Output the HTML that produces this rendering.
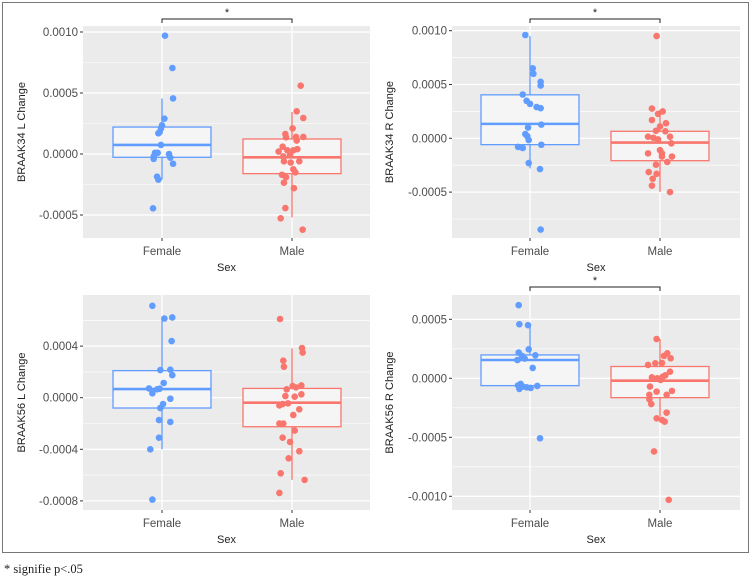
<!DOCTYPE html>
<html><head><meta charset="utf-8">
<style>
html,body{margin:0;padding:0;background:#fff;}
svg{display:block;font-family:"Liberation Sans",sans-serif;}
</style></head>
<body>
<svg id="chart" width="754" height="579" viewBox="0 0 754 579" xmlns="http://www.w3.org/2000/svg">
<rect x="2.5" y="2.5" width="746" height="550" fill="none" stroke="#777" stroke-width="1"/>
<text x="4" y="573" font-family="Liberation Serif, serif" font-size="12.5" fill="#222">* signifie  p&lt;.05</text>
</svg>
<script>
const categories = ["Female", "Male"];
// Panel 1: BRAAK34 L
const p1Female = [0.00097,0.000705,0.000456,0.00029,0.000235,0.00021,0.00018,0.00017,0.000074,0.00001,0.00001,-0.00002,-0.00004,0.0,-0.00003,-0.00008,-0.000186,-0.00021,-0.000445];
const p1FemaleJit = [0.023,0.08,0.085,0.018,0,-0.008,-0.018,-0.028,-0.008,-0.054,-0.033,-0.064,-0.064,0.054,0.064,0.085,-0.038,-0.028,-0.069];
const p1Male = [0.00056,0.00035,0.000295,0.00021,0.000164,0.000137,0.00014,0.00014,0.00011,0.00006,0.00002,0.00003,0.00003,0.00004,-0.00002,-0.00001,-0.00006,-0.00006,-0.00007,-0.000125,-0.00015,-0.00017,-0.00019,-0.000235,-0.00028,-0.000443,-0.000527,-0.00062];
const p1MaleJit = [0.067,0.036,0.087,0.005,-0.051,-0.046,0.031,0.087,0.036,-0.072,-0.103,-0.036,0.01,0.041,-0.067,-0.015,0.056,-0.062,-0.01,0.01,0.026,-0.077,-0.046,-0.062,0.015,-0.051,-0.087,0.082];
const p1FemaleBox = [-0.00021,-0.000027,0.000074,0.000221,0.000455];
const p1MaleBox = [-0.00052,-0.000161,-0.000027,0.000123,0.000344];
// Panel 2: BRAAK34 R
const p2Female = [0.00096,0.00065,0.0006,0.000525,0.00049,0.000407,0.000348,0.00032,0.00029,0.00028,0.0001,0.000127,0.00004,0.00002,-0.000016,-0.00008,-0.00009,-0.00006,-0.00023,-0.000286,-0.000848];
const p2FemaleJit = [-0.036,0.021,0.026,0.082,0.082,-0.056,-0.026,0,0.051,0.082,-0.015,0.087,-0.036,-0.021,-0.01,-0.092,-0.056,0.087,-0.01,0.077,0.082];
const p2Male = [0.00095,0.000276,0.000227,0.00025,0.00017,0.00014,0.00011,0.00007,0.000065,0.000015,0.000005,-0.00001,0.000015,-0.000047,-0.00011,-0.00014,-0.00014,-0.00017,-0.00017,-0.00022,-0.000245,-0.000314,-0.00033,-0.000376,-0.00044,-0.0005];
const p2MaleJit = [-0.026,-0.062,-0.015,0.021,-0.062,0.046,0,-0.031,0.041,-0.092,-0.051,-0.015,0.077,0.087,0,0.015,-0.092,0.092,0.015,0.056,-0.031,-0.087,-0.026,-0.056,-0.062,0.077];
const p2FemaleBox = [-0.00028,-0.000059,0.000134,0.000404,0.00095];
const p2MaleBox = [-0.000497,-0.000208,-0.00004,0.000065,0.000264];
// Panel 3: BRAAK56 L
const p3Female = [0.000712,0.000614,0.000622,0.000439,0.000214,0.000217,0.000175,0.000114,0.000072,0.000034,0.000065,0.00007,-0.000008,-0.000049,-0.00008,-0.000173,-0.000188,-0.00031,-0.0004,-0.00079];
const p3FemaleJit = [-0.074,0.018,0.079,0.074,-0.013,0.064,0.079,0.013,-0.1,-0.074,-0.038,-0.018,0.064,0.008,-0.013,-0.023,0.064,-0.023,-0.09,-0.074];
const p3Male = [0.00061,0.000385,0.00035,0.000287,0.00024,0.000095,0.00009,0.000065,0.00008,0.000026,0.000013,0.000008,-0.000044,-0.00006,-0.000049,-0.00009,-0.000134,-0.0002,-0.0002,-0.000255,-0.00031,-0.000343,-0.000415,-0.00047,-0.000586,-0.000637,-0.000738];
const p3MaleJit = [-0.092,0.077,0.082,-0.067,-0.062,0.072,0.005,-0.041,0.031,0.072,-0.051,0.021,-0.031,-0.097,-0.072,0.056,0.01,-0.097,-0.067,0.021,-0.072,-0.015,0.056,-0.026,-0.087,0.097,-0.097];
const p3FemaleBox = [-0.0004,-0.00008,0.000067,0.00021,0.00061];
const p3MaleBox = [-0.000637,-0.000225,-0.000039,0.000072,0.000382];
// Panel 4: BRAAK56 R
const p4Female = [0.00062,0.000458,0.00045,0.000246,0.000218,0.00019,0.000167,0.000155,0.000195,0.000088,-0.000048,-0.00006,-0.00007,-0.000076,-0.000082,-0.000065,-0.00009,-0.000508];
const p4FemaleJit = [-0.087,-0.082,-0.015,-0.01,-0.087,-0.062,-0.041,-0.097,0.041,0.021,-0.072,-0.092,-0.056,-0.026,0.005,0.056,-0.082,0.077];
const p4Male = [0.000333,0.000212,0.00019,0.00017,0.000113,0.000127,0.00013,0.000056,0.000014,0.000008,0.000,0.000025,-0.000014,-0.00007,-0.000113,-0.00014,-0.00014,-0.000107,-0.000178,-0.000218,-0.000339,-0.000353,-0.000367,-0.000291,-0.00062,-0.00103];
const p4MaleJit = [-0.026,0.056,0.031,0.082,-0.092,-0.036,0.015,0.077,0.021,-0.062,-0.021,0.041,0.005,-0.077,-0.026,-0.082,0.051,0.092,-0.082,-0.067,-0.026,0.015,0.036,0.051,-0.046,0.067];
const p4FemaleBox = [-0.000076,-0.000062,0.000155,0.000198,0.000452];
const p4MaleBox = [-0.000325,-0.000164,-0.00002,0.0001,0.000333];

const p1Ticks = [0.001,0.0005,0,-0.0005];
const p1TickLabels = ["0.0010","0.0005","0.0000","-0.0005"];
const p2Ticks = [0.001,0.0005,0,-0.0005];
const p2TickLabels = ["0.0010","0.0005","0.0000","-0.0005"];
const p3Ticks = [0.0004,0,-0.0004,-0.0008];
const p3TickLabels = ["0.0004","0.0000","-0.0004","-0.0008"];
const p4Ticks = [0.0005,0,-0.0005,-0.001];
const p4TickLabels = ["0.0005","0.0000","-0.0005","-0.0010"];

const NS = "http://www.w3.org/2000/svg";
const svg = document.getElementById("chart");
const COLORS = ["#619CFF", "#F8766D"];
function mk(tag, attrs, parent){const e=document.createElementNS(NS,tag);for(const k in attrs)e.setAttribute(k,attrs[k]);(parent||svg).appendChild(e);return e;}

function panel(cfg){
  const g = mk("g",{});
  
  
  const {x0,x1,y0,y1,zeroY,pxPer,ticks,tickLabels} = cfg;
  const yS = v => zeroY - v*pxPer;
  const xS = (i,j) => cfg.cx[i] + j*130;
  const bg = mk("rect",{x:x0,y:y0,width:x1-x0,height:y1-y0,fill:"#EBEBEB"},g);
  
  
  // minor gridlines
  const step = ticks[0]-ticks[1];
  for(let k=-6;k<=6;k++){
    const v = ticks[0]-step/2 - k*step;
    const y=yS(v);
    if(y>y0+1&&y<y1-1){const l=mk("line",{x1:x0,x2:x1,y1:y,y2:y,stroke:"#fff","stroke-width":0.6},g);
      
      }
  }
  ticks.forEach((t,i)=>{
    const y=yS(t);
    const l=mk("line",{x1:x0,x2:x1,y1:y,y2:y,stroke:"#fff","stroke-width":1.3},g);
    
    
    const tk=mk("line",{x1:x0-3,x2:x0,y1:y,y2:y,stroke:"#333","stroke-width":1},g);
    
    
    const tx=mk("text",{x:x0-5,y:y+4,"text-anchor":"end","font-size":11.5,fill:"#4d4d4d"},g);
    tx.textContent=tickLabels[i];
    
    
  });
  categories.forEach((c,i)=>{
    const x=cfg.cx[i];
    const l=mk("line",{x1:x,x2:x,y1:y0,y2:y1,stroke:"#fff","stroke-width":1.3},g);
    
    
    const tk=mk("line",{x1:x,x2:x,y1:y1,y2:y1+3,stroke:"#333","stroke-width":1},g);
    
    
    const tx=mk("text",{x:x,y:y1+17,"text-anchor":"middle","font-size":11.5,fill:"#4d4d4d"},g);
    tx.textContent=c;
    
    
  });
  const xt=mk("text",{x:(x0+x1)/2,y:y1+33,"text-anchor":"middle","font-size":11,fill:"#222"},g);
  xt.textContent="Sex";
  
  
  const ty=(y0+y1)/2;
  const yt=mk("text",{x:cfg.titleX,y:ty,"text-anchor":"middle","font-size":11,fill:"#222",transform:`rotate(-90 ${cfg.titleX} ${ty})`},g);
  yt.textContent=cfg.title;
  
  
  // boxes
  [cfg.boxF,cfg.boxM].forEach((b,i)=>{
    const x=cfg.cx[i], hw=49, col=COLORS[i];
    const wl=mk("line",{x1:x,x2:x,y1:yS(b[4]),y2:yS(b[0]),stroke:col,"stroke-width":1.3},g);
    
    
    const r=mk("rect",{x:x-hw,y:yS(b[3]),width:2*hw,height:yS(b[1])-yS(b[3]),fill:"#F5F5F5",stroke:col,"stroke-width":1.3},g);
    
    
    const m=mk("line",{x1:x-hw,x2:x+hw,y1:yS(b[2]),y2:yS(b[2]),stroke:col,"stroke-width":2.6},g);
    
    
  });
  // points
  [[cfg.ptF,cfg.jitF],[cfg.ptM,cfg.jitM]].forEach(([vals,jit],i)=>{
    vals.forEach((v,k)=>{
      const c=mk("circle",{cx:xS(i,jit[k]),cy:yS(v),r:3.3,fill:COLORS[i]},g);
      
      
    });
  });
  if(cfg.bracketY){
    const by=cfg.bracketY, a=cfg.cx[0], b=cfg.cx[1];
    const p=mk("path",{d:`M${a} ${by+4}V${by}H${b}V${by+4}`,fill:"none",stroke:"#222","stroke-width":1},g);
    
    
    const s=mk("text",{x:(a+b)/2,y:by-3,"text-anchor":"middle","font-size":11,fill:"#222"},g);
    s.textContent="*";
    
    
  }
}

panel({name:"panel-braak34-l",x0:83,x1:370,y0:26,y1:238,zeroY:154,pxPer:61/0.0005,ticks:p1Ticks,tickLabels:p1TickLabels,cx:[162,292],titleX:25,title:"BRAAK34 L Change",boxF:p1FemaleBox,boxM:p1MaleBox,ptF:p1Female,jitF:p1FemaleJit,ptM:p1Male,jitM:p1MaleJit,bracketY:19});
panel({name:"panel-braak34-r",x0:452,x1:740,y0:26,y1:238,zeroY:138.3,pxPer:53.8/0.0005,ticks:p2Ticks,tickLabels:p2TickLabels,cx:[530,660],titleX:393,title:"BRAAK34 R Change",boxF:p2FemaleBox,boxM:p2MaleBox,ptF:p2Female,jitF:p2FemaleJit,ptM:p2Male,jitM:p2MaleJit,bracketY:19});
panel({name:"panel-braak56-l",x0:83,x1:370,y0:295,y1:510,zeroY:397.7,pxPer:51.6/0.0004,ticks:p3Ticks,tickLabels:p3TickLabels,cx:[162,292],titleX:25,title:"BRAAK56 L Change",boxF:p3FemaleBox,boxM:p3MaleBox,ptF:p3Female,jitF:p3FemaleJit,ptM:p3Male,jitM:p3MaleJit,bracketY:0});
panel({name:"panel-braak56-r",x0:452,x1:740,y0:295,y1:510,zeroY:378.3,pxPer:59/0.0005,ticks:p4Ticks,tickLabels:p4TickLabels,cx:[530,660],titleX:393,title:"BRAAK56 R Change",boxF:p4FemaleBox,boxM:p4MaleBox,ptF:p4Female,jitF:p4FemaleJit,ptM:p4Male,jitM:p4MaleJit,bracketY:287});
</script>
</body></html>
